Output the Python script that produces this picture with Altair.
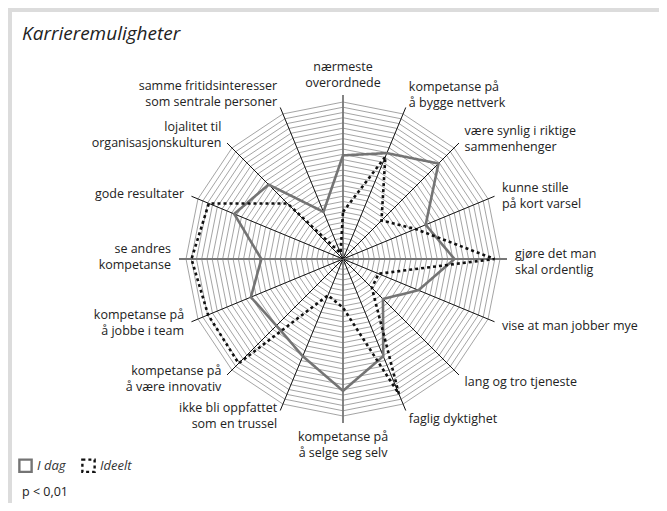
import altair as alt
import pandas as pd

labels = [
    "nærmeste\noverordnede",
    "kompetanse på\nå bygge nettverk",
    "være synlig i riktige\nsammenhenger",
    "kunne stille\npå kort varsel",
    "gjøre det man\nskal ordentlig",
    "vise at man jobber mye",
    "lang og tro tjeneste",
    "faglig dyktighet",
    "kompetanse på\nå selge seg selv",
    "ikke bli oppfattet\nsom en trussel",
    "kompetanse på\nå være innovativ",
    "kompetanse på\nå jobbe i team",
    "se andres\nkompetanse",
    "gode resultater",
    "lojalitet til\norganisasjonskulturen",
    "samme fritidsinteresser\nsom sentrale personer",
]
i_dag = [3.96, 4.38, 5.16, 3.42, 4.26, 3.12, 2.16, 4.02, 5.04, 4.02, 3.60, 3.81, 3.12, 4.50, 4.02, 1.95]
ideelt = [1.80, 4.23, 2.08, 3.00, 5.79, 1.47, 1.56, 5.58, 1.86, 1.50, 5.64, 5.58, 5.79, 5.55, 3.00, 0.24]
series_names = ["I dag", "Ideelt"]
ring_levels = [round(0.2 * k, 1) for k in range(1, 31)]
scale_max = 6

n = len(labels)
FONT = "Open Sans"
FS = 12.5
PX = scale_max / 157.0  # data units per pixel
LH = 16                 # line height in px

rows = []
for name, vals in zip(series_names, [i_dag, ideelt]):
    for i, v in enumerate(vals):
        rows.append({"serie": name, "idx": i, "value": v})
df = pd.DataFrame(rows)

rings = pd.DataFrame([{"ring": r, "idx": i} for r in ring_levels for i in range(n)])
axes_df = pd.DataFrame({"idx": list(range(n)), "label": labels})

line_rows = []
for i, lab in enumerate(labels):
    parts = lab.split("\n")
    for k, p in enumerate(parts):
        line_rows.append({"idx": i, "text": p, "k": k, "nl": len(parts)})
lines_df = pd.DataFrame(line_rows)

xs = alt.Scale(domain=[-scale_max, scale_max], range=[178, 492])
ys = alt.Scale(domain=[-scale_max, scale_max], range=[408, 94])
ang = f"datum.idx * 2 * PI / {n}"

def X(field):
    return alt.X(field, type="quantitative", scale=xs, axis=None)

def Y(field):
    return alt.Y(field, type="quantitative", scale=ys, axis=None)

ring_layer = alt.Chart(rings).transform_calculate(
    a=ang
).transform_calculate(
    x="datum.ring * sin(datum.a)", y="datum.ring * cos(datum.a)"
).mark_line(interpolate="linear-closed", color="#9a9a9a", strokeWidth=0.9).encode(
    x=X("x"), y=Y("y"), detail="ring:N", order="idx:Q"
)

spoke_r = 164 * PX
spokes = alt.Chart(axes_df).transform_calculate(
    a=ang
).transform_calculate(
    x0="0", y0="0",
    x=f"{spoke_r} * sin(datum.a)", y=f"{spoke_r} * cos(datum.a)"
).mark_rule().encode(
    x=X("x0"), y=Y("y0"), x2="x:Q", y2="y:Q",
    color=alt.condition("datum.idx % 4 == 0", alt.value("#777777"), alt.value("#111111")),
    strokeWidth=alt.condition("datum.idx % 4 == 0", alt.value(1.8), alt.value(1.0)),
)

series_layer = alt.Chart(df).transform_calculate(
    a=ang
).transform_calculate(
    x="datum.value * sin(datum.a)", y="datum.value * cos(datum.a)"
).mark_line(interpolate="linear-closed", strokeWidth=2.6, strokeCap="butt").encode(
    x=X("x"), y=Y("y"), order="idx:Q",
    color=alt.Color("serie:N", title=None,
                    scale=alt.Scale(domain=series_names, range=["#747474", "#111111"]),
                    legend=alt.Legend(orient="none", legendX=10, legendY=450, direction="horizontal",
                                      symbolType="square", symbolSize=150, symbolStrokeWidth=2.4,
                                      symbolFillColor="white",
                                      labelFont=FONT, labelFontSize=13, labelFontStyle="italic",
                                      labelColor="#333333", columnPadding=11)),
    strokeDash=alt.StrokeDash("serie:N", title=None,
                              scale=alt.Scale(domain=series_names, range=[[1, 0], [3, 3]])),
)


def label_layer(filt, align, r, side_shift, top_coef):
    shift = (f"(datum.nl > 1 ? ({side_shift} + {top_coef} * pow(max(cos(datum.a), 0), 8)) : -1)")
    return alt.Chart(lines_df).transform_filter(filt).transform_calculate(
        a=ang
    ).transform_calculate(
        x=f"{r} * sin(datum.a)",
        y=f"{r} * cos(datum.a) + (((datum.nl - 1) / 2 - datum.k) * {LH} + {shift}) * {PX}"
    ).mark_text(align=align, baseline="middle", font=FONT, fontSize=FS,
                color="#222222").encode(
        x=X("x"), y=Y("y"), text="text:N"
    )

def tb_layer(filt, r):
    return alt.Chart(lines_df).transform_filter(filt).transform_calculate(
        a=ang
    ).transform_calculate(
        x=f"{r} * sin(datum.a)",
        y=f"{r} * cos(datum.a) + ((datum.nl - 1) / 2 - datum.k) * {LH} * {PX}"
    ).mark_text(align="center", baseline="middle", font=FONT, fontSize=FS,
                color="#222222").encode(
        x=X("x"), y=Y("y"), text="text:N"
    )

lab_top = tb_layer("datum.idx == 0", 184 * PX)
lab_bot = tb_layer(f"datum.idx == {n // 2}", 185.5 * PX)
lab_right = label_layer(f"datum.idx > 0 && datum.idx < {n // 2}", "left", 172 * PX, -3, 15)
lab_left = label_layer(f"datum.idx > {n // 2}", "right", 172 * PX, 2, 8)

title_df = pd.DataFrame({"t": ["Karrieremuligheter"]})
title = alt.Chart(title_df).mark_text(align="left", baseline="middle", font=FONT, fontSize=19,
                                      fontStyle="italic", color="#222222").encode(
    x=alt.value(14), y=alt.value(26), text="t:N"
)
note_df = pd.DataFrame({"t": ["p < 0,01"]})
note = alt.Chart(note_df).mark_text(align="left", baseline="middle", font=FONT, fontSize=12.5,
                                    color="#222222").encode(
    x=alt.value(14), y=alt.value(484), text="t:N"
)

frame_top = alt.Chart(title_df).mark_rect(color="#dcdcdc").encode(
    x=alt.value(0), x2=alt.value(651), y=alt.value(0), y2=alt.value(4)
)
frame_left = alt.Chart(title_df).mark_rect(color="#dcdcdc").encode(
    x=alt.value(0), x2=alt.value(4), y=alt.value(0), y2=alt.value(495)
)

chart = alt.layer(
    frame_top, frame_left, ring_layer, spokes, series_layer,
    lab_top, lab_bot, lab_right, lab_left, title, note
).properties(
    width=651, height=495, autosize=alt.AutoSizeParams(type="none"), padding=0
).configure_view(stroke=None)

chart.save("out.html", embed_options={"renderer": "svg", "actions": False})
